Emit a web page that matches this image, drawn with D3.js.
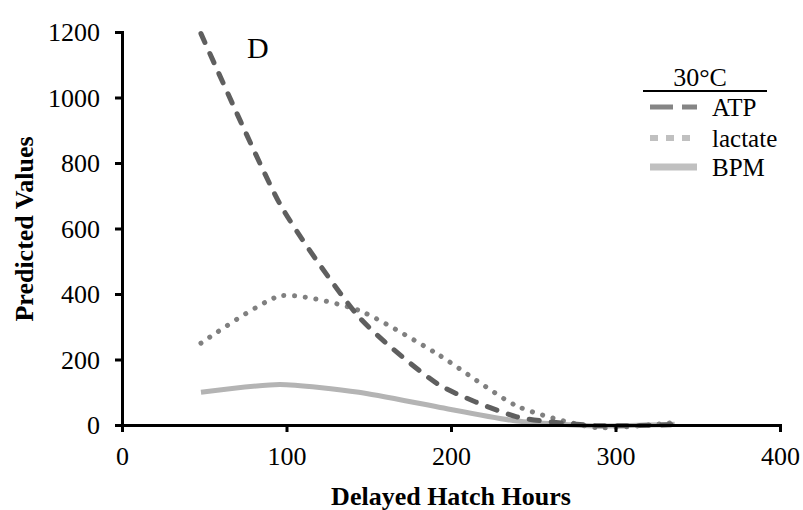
<!DOCTYPE html>
<html>
<head>
<meta charset="utf-8">
<script src="https://cdn.jsdelivr.net/npm/d3@7"></script>
</head>
<body style="margin:0">
<svg id="chart" width="803" height="510"></svg>
<script>
// Predicted values vs. delayed hatch hours at 30°C
const hours   = [48, 96, 144, 192, 240, 288, 336];
const atp     = [1195, 675, 330, 125, 25, -2, 1];
const lactate = [250, 394, 350, 216, 58, -8, 8];
const bpm     = [100, 124, 100, 55, 12, -3, 2];

const xTicks = [0, 100, 200, 300, 400];
const yTicks = [0, 200, 400, 600, 800, 1000, 1200];

const FONT = '"Liberation Serif"';

const series = [
  { name: "ATP",     values: atp,     color: "#5f5f5f", width: 5, dash: "10 12",    cap: "round" },
  { name: "lactate", values: lactate, color: "#808080", width: 5, dash: "0.1 10.6", cap: "round" },
  { name: "BPM",     values: bpm,     color: "#b4b4b4", width: 5, dash: null,       cap: "butt" }
];

const legendItems = [
  { name: "ATP",     color: "#858585", width: 5, dash: "23 9" },
  { name: "lactate", color: "#c0c0c0", width: 6, dash: "8 8" },
  { name: "BPM",     color: "#c0c0c0", width: 7, dash: null }
];

const svg = d3.select("#chart");

const x = d3.scaleLinear().domain([0, 400]).range([122, 780]);
const y = d3.scaleLinear().domain([0, 1200]).range([425, 32]);

// Text helper: every label in Liberation Serif
function label(parent, txt, size, weight) {
  return parent.append("text")
    .style("font-family", FONT)
    .style("font-size", size + "px")
    .style("font-weight", weight || "normal")
    .text(txt);
}

// Series lines (smoothed)
const line = d3.line()
  .x((d, i) => x(hours[i]))
  .y(d => y(d))
  .curve(d3.curveCardinal.tension(0.4));

[series[2], series[1], series[0]].forEach(s => {
  svg.append("path")
    .datum(s.values)
    .attr("d", line)
    .attr("fill", "none")
    .attr("stroke", s.color)
    .attr("stroke-width", s.width)
    .attr("stroke-linecap", s.cap)
    .attr("stroke-linejoin", "round")
    .attr("stroke-dasharray", s.dash);
});

// Axes
const xAxis = svg.append("g")
  .attr("transform", `translate(0,${y(0)})`)
  .call(d3.axisBottom(x).tickValues(xTicks).tickSize(7).tickPadding(15).tickFormat(d3.format("d")));
const yAxis = svg.append("g")
  .attr("transform", `translate(${x(0)},0)`)
  .call(d3.axisLeft(y).tickValues(yTicks).tickSize(7).tickPadding(15).tickFormat(d3.format("d")));

[xAxis, yAxis].forEach(g => {
  g.attr("font-family", null).attr("font-size", null);
  g.select(".domain").attr("stroke", "#000").attr("stroke-width", 3);
  g.selectAll(".tick line").attr("stroke", "#000").attr("stroke-width", 3);
  g.selectAll(".tick text")
    .attr("fill", "#000")
    .style("font-family", FONT)
    .style("font-size", "26px");
});
yAxis.selectAll(".tick text").attr("dy", "0.34em");

// Axis titles
label(svg, "Delayed Hatch Hours", 26, "bold")
  .attr("x", 451).attr("y", 505)
  .attr("text-anchor", "middle");

label(svg, "Predicted Values", 26, "bold")
  .attr("transform", "translate(33,229) rotate(-90)")
  .attr("text-anchor", "middle");

// Panel letter
label(svg, "D", 30).attr("x", 247).attr("y", 58);

// Legend
const lg = svg.append("g");
label(lg, "30°C", 26)
  .attr("x", 700).attr("y", 86)
  .attr("text-anchor", "middle");
lg.append("line")
  .attr("x1", 643).attr("x2", 767)
  .attr("y1", 91).attr("y2", 91)
  .attr("stroke", "#000").attr("stroke-width", 2);

const rowY = [107, 138, 167];
legendItems.forEach((it, i) => {
  lg.append("line")
    .attr("x1", 650).attr("x2", 697)
    .attr("y1", rowY[i]).attr("y2", rowY[i])
    .attr("stroke", it.color)
    .attr("stroke-width", it.width)
    .attr("stroke-dasharray", it.dash);
  label(lg, it.name, 25).attr("x", 712).attr("y", rowY[i] + 9);
});
</script>
</body>
</html>
